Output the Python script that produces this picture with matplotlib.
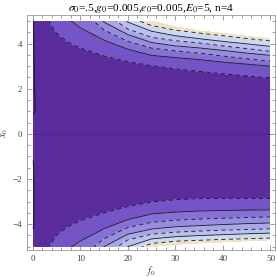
import numpy as np
import matplotlib.pyplot as plt
from matplotlib.patches import Rectangle

# sampled f0 columns
f0 = [0, 2.5, 5, 7.5, 10, 15, 20, 25, 30, 35, 40, 45, 50]

# upper half: x0 where each contour crosses (L0 .. L6, then W = edge of plotted region)
top = [
    [7.0, 5.3, 4.45, 4.05, 3.8, 3.45, 3.2, 3.02, 2.88, 2.77, 2.66, 2.57, 2.48],
    [8.0, 6.4, 5.6, 5.1, 4.7, 4.15, 3.75, 3.48, 3.38, 3.29, 3.18, 3.09, 3.0],
    [8.5, 7.0, 6.3, 5.9, 5.5, 4.6, 4.1, 3.8, 3.68, 3.58, 3.45, 3.33, 3.22],
    [9.0, 7.5, 6.8, 6.4, 6.0, 4.95, 4.4, 4.05, 3.9, 3.81, 3.7, 3.58, 3.48],
    [9.5, 8.0, 7.3, 6.9, 6.5, 5.35, 4.65, 4.28, 4.13, 4.03, 3.9, 3.78, 3.66],
    [10.0, 8.5, 7.8, 7.4, 7.0, 5.8, 4.95, 4.55, 4.35, 4.22, 4.1, 3.99, 3.88],
    [10.5, 9.0, 8.3, 7.9, 7.5, 6.3, 5.2, 4.8, 4.6, 4.47, 4.35, 4.23, 4.12],
    [11.0, 9.5, 8.8, 8.4, 8.0, 6.6, 5.5, 5.0, 4.75, 4.57, 4.45, 4.33, 4.21],
]

# lower half, same contours (x0 values, negative side)
bottom = [
    [-7.0, -5.3, -4.5, -4.1, -3.85, -3.5, -3.22, -3.02, -2.92, -2.87, -2.86, -2.86, -2.87],
    [-8.0, -6.4, -5.6, -5.1, -4.75, -4.2, -3.8, -3.55, -3.47, -3.42, -3.4, -3.38, -3.37],
    [-8.5, -7.0, -6.3, -5.9, -5.5, -4.65, -4.15, -3.92, -3.83, -3.78, -3.74, -3.71, -3.68],
    [-9.0, -7.5, -6.8, -6.4, -6.0, -5.0, -4.45, -4.22, -4.12, -4.07, -4.02, -3.98, -3.95],
    [-9.5, -8.0, -7.3, -6.9, -6.5, -5.4, -4.7, -4.45, -4.36, -4.31, -4.27, -4.24, -4.21],
    [-10.0, -8.5, -7.8, -7.4, -7.0, -5.85, -5.0, -4.66, -4.56, -4.51, -4.47, -4.43, -4.4],
    [-10.5, -9.0, -8.3, -7.9, -7.5, -6.3, -5.25, -4.86, -4.76, -4.72, -4.68, -4.65, -4.62],
    [-11.0, -9.5, -8.8, -8.4, -8.0, -6.6, -5.55, -5.0, -4.9, -4.84, -4.79, -4.74, -4.7],
]

# thin contour hugging the f0 = 0 edge
edge_top_f0 = [0.15, 0.25, 0.35, 0.5, 0.45, 0.15]
edge_top_x0 = [5.0, 3.5, 2.0, 1.3, 1.0, 0.9]
edge_bot_f0 = [0.1, 0.22, 0.25, 0.22, 0.1]
edge_bot_x0 = [-1.2, -2.0, -3.0, -3.8, -4.2]

band_colors = ['#5a2c9c', '#7454c6', '#8570d6', '#978ce2', '#a9a6ea',
               '#bac1f0', '#ccd9f3', '#eee3c9']

# build a curvilinear grid: rows ordered from bottom to top
n = len(top)
rows_y = [[-14.0] * len(f0)] + bottom[::-1] + [[0.0] * len(f0)] + top + [[14.0] * len(f0)]
rows_z = [n] + list(range(n - 1, -1, -1)) + [-1] + list(range(n)) + [n]
Y = np.array(rows_y)
X = np.tile(np.array(f0, dtype=float), (len(rows_y), 1))
Z = np.repeat(np.array(rows_z, dtype=float)[:, None], len(f0), axis=1)

plt.rcParams['mathtext.fontset'] = 'stix'
plt.rcParams['font.family'] = 'Liberation Serif'

fig = plt.figure(figsize=(2.77, 2.77), dpi=100)
ax = fig.add_axes([27 / 277, 27 / 277, 248 / 277, 235 / 277])

clip = Rectangle((f0[0], -5), f0[-1] - f0[0], 10, transform=ax.transData)
levels = [-2] + list(range(n))
cf = ax.contourf(X, Y, Z, levels=levels, colors=band_colors)
cf.set_clip_path(clip)

styles = [(0, (5, 4)) if k % 2 == 0 else 'solid' for k in range(n - 1)]
cl = ax.contour(X, Y, Z, levels=list(range(n - 1)), colors='#1a1a1a',
                linewidths=0.6, linestyles=styles)
cl.set_clip_path(clip)

ax.hlines(0, f0[0], f0[-1], color='#4c2690', lw=0.8)
ax.plot(edge_top_f0, edge_top_x0, color='#1a1a1a', lw=0.7)
ax.plot(edge_bot_f0, edge_bot_x0, color='#1a1a1a', lw=0.7)

ax.set_xlim(-1.22, 50.95)
ax.set_ylim(-5.15, 5.27)

ax.set_xticks([0, 10, 20, 30, 40, 50])
ax.set_xticks(np.arange(0, 51, 2), minor=True)
ax.set_yticks([-4, -2, 0, 2, 4])
ax.set_yticks(np.arange(-5, 5.01, 0.5), minor=True)
ax.set_yticklabels(['\u22124', '\u22122', '0', '2', '4'])
ax.tick_params(which='both', direction='in', top=True, right=True,
               colors='#777777', labelcolor='#444444', labelsize=6.5, width=0.5)
ax.tick_params(which='major', length=3.5)
ax.tick_params(which='minor', length=2)
for s in ax.spines.values():
    s.set_color('#999999')
    s.set_linewidth(0.6)

ax.set_xlabel(r'$f_0$', fontsize=7.5, color='#444444', labelpad=1)
ax.set_ylabel(r'$x_0$', fontsize=7.5, color='#444444', labelpad=2)
ax.set_title(r'$\sigma_0$=.5,$g_0$=0.005,$e_0$=0.005,$E_0$=5, n=4',
             fontsize=8.2, pad=2)

fig.savefig('out.png', dpi=100)
